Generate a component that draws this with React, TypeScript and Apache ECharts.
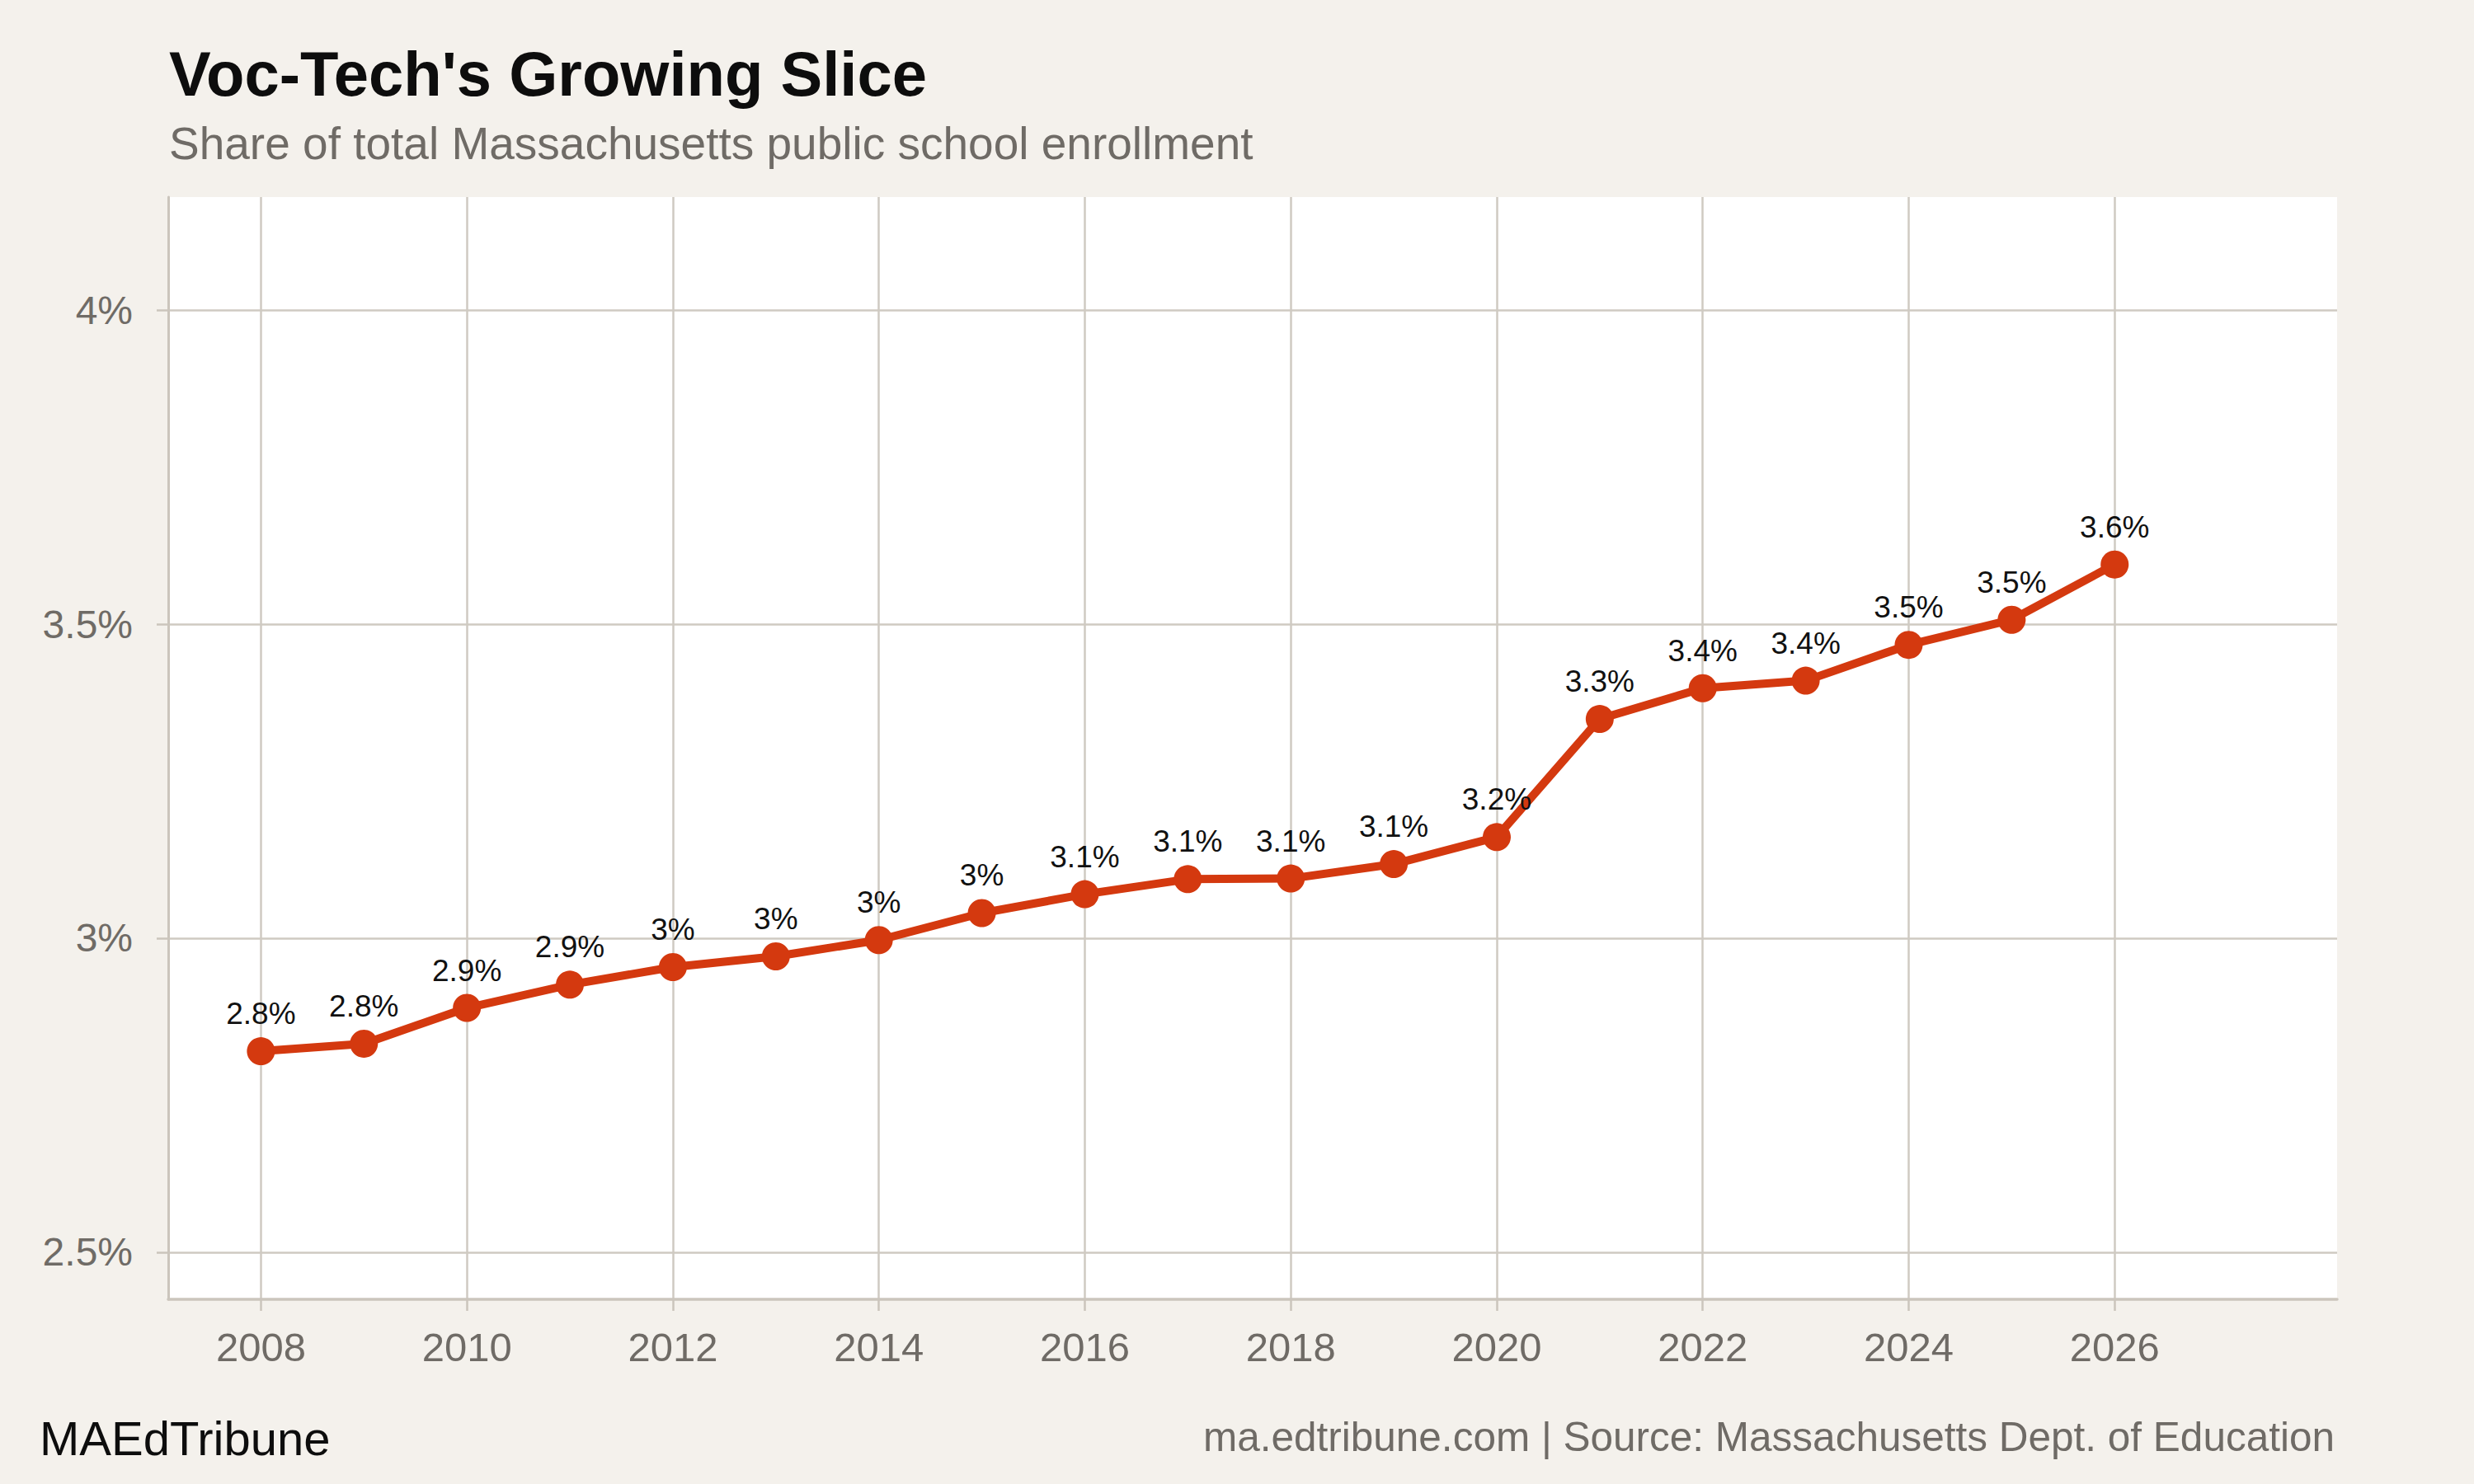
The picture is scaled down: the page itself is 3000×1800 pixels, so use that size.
import { useEffect, useRef } from 'react';
import * as echarts from 'echarts';

const FONT = '"Liberation Sans", Arial, Helvetica, sans-serif';

const TITLE = "Voc-Tech's Growing Slice";
const SUBTITLE = 'Share of total Massachusetts public school enrollment';
const BRAND = 'MAEdTribune';
const SOURCE = 'ma.edtribune.com | Source: Massachusetts Dept. of Education';

const years = [2008, 2009, 2010, 2011, 2012, 2013, 2014, 2015, 2016, 2017, 2018, 2019, 2020, 2021, 2022, 2023, 2024, 2025, 2026];
const shares = [2.82, 2.832, 2.889, 2.926, 2.954, 2.971, 2.997, 3.04, 3.07, 3.094, 3.095, 3.118, 3.161, 3.349, 3.398, 3.41, 3.467, 3.507, 3.595];

const xTicks = [2008, 2010, 2012, 2014, 2016, 2018, 2020, 2022, 2024, 2026];
const yTicks = [2.5, 3, 3.5, 4];

const RED = '#d4390f';
const GRID = '#cfcac2';
const AXIS = '#cbc5bc';
const GREY = '#6f6b66';

const fmtPct = (v: number) => `${Math.round(v * 10) / 10}%`;

export default function App() {
  const chartRef = useRef<HTMLDivElement>(null);

  useEffect(() => {
    document.body.style.margin = '0';
    if (!chartRef.current) return;
    const chart = echarts.init(chartRef.current, null, { renderer: 'svg' });

    const option: any = {
      animation: false,
      backgroundColor: '#f4f1ec',
      grid: {
        left: 204,
        top: 239,
        width: 2630,
        height: 1337,
        show: true,
        backgroundColor: '#ffffff',
        borderWidth: 0,
        outerBoundsMode: 'none',
      },
      xAxis: {
        type: 'value',
        min: 2007.1,
        max: 2028.16,
        axisLine: { show: true, onZero: false, lineStyle: { color: AXIS, width: 3.5 } },
        axisTick: { show: true, customValues: xTicks, length: 14, lineStyle: { color: AXIS, width: 2.5 } },
        axisLabel: {
          customValues: xTicks,
          formatter: (v: number) => String(v),
          fontFamily: FONT,
          fontSize: 49,
          color: GREY,
          margin: 33,
        },
        splitLine: { show: true, lineStyle: { color: GRID, width: 2.5 } },
      },
      yAxis: {
        type: 'value',
        min: 2.425,
        max: 4.18,
        axisLine: { show: true, onZero: false, lineStyle: { color: AXIS, width: 3 } },
        axisTick: { show: true, customValues: yTicks, length: 14, lineStyle: { color: AXIS, width: 2.5 } },
        axisLabel: {
          customValues: yTicks,
          formatter: (v: number) => `${v}%`,
          fontFamily: FONT,
          fontSize: 48,
          color: GREY,
          margin: 43,
        },
        splitLine: { show: true, lineStyle: { color: GRID, width: 2.5 } },
      },
      series: [
        {
          type: 'line',
          data: years.map((y, i) => [y, shares[i]]),
          symbol: 'circle',
          symbolSize: 34,
          itemStyle: { color: RED },
          lineStyle: { color: RED, width: 10 },
          label: {
            show: true,
            position: 'top',
            distance: 10,
            fontFamily: FONT,
            fontSize: 37,
            color: '#111111',
            formatter: (p: any) => fmtPct(p.value[1]),
          },
        },
      ],
      graphic: [
        {
          type: 'text',
          left: 205,
          top: 51,
          style: { text: TITLE, font: `bold 76px ${FONT}`, fill: '#0d0d0d' },
        },
        {
          type: 'text',
          left: 205,
          top: 146,
          style: { text: SUBTITLE, font: `55px ${FONT}`, fill: GREY },
        },
        {
          type: 'text',
          left: 48,
          top: 1715,
          style: { text: BRAND, font: `58px ${FONT}`, fill: '#0d0d0d' },
        },
        {
          type: 'text',
          right: 3000 - 2831,
          top: 1717,
          style: { text: SOURCE, font: `49.5px ${FONT}`, fill: GREY },
        },
      ],
    };

    chart.setOption(option);
    return () => {
      chart.dispose();
    };
  }, []);

  return <div ref={chartRef} style={{ width: '3000px', height: '1800px' }} />;
}
